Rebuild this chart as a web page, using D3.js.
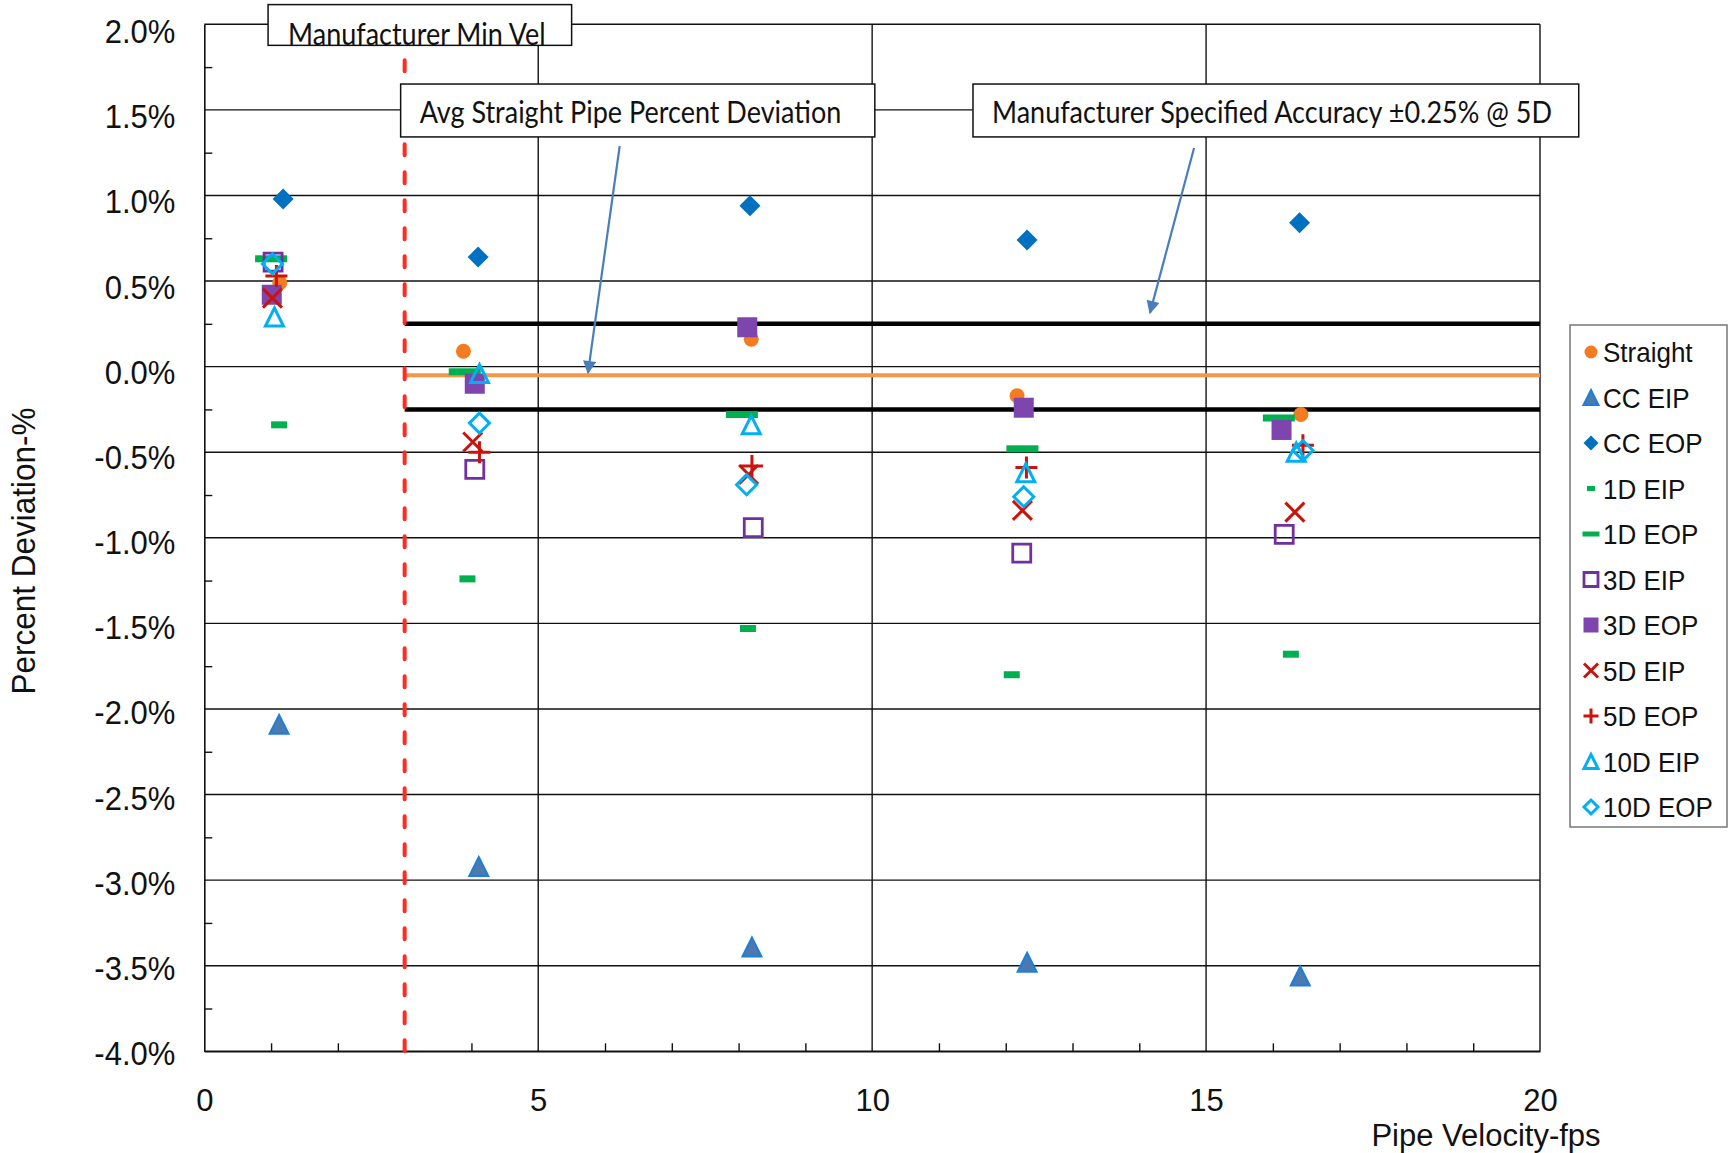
<!DOCTYPE html>
<html>
<head>
<meta charset="utf-8">
<script src="https://cdn.jsdelivr.net/npm/d3@7"></script>
<style>
  html, body { margin: 0; padding: 0; background: #ffffff; }
  svg { display: block; }
</style>
</head>
<body>
<svg id="chart" width="1730" height="1153"></svg>
<script>
// ---------------- DATA ----------------
const seriesNames = ["Straight", "CC EIP", "CC EOP", "1D EIP", "1D EOP", "3D EIP", "3D EOP", "5D EIP", "5D EOP", "10D EIP", "10D EOP"];

const straight = [[1.13, 0.49], [3.88, 0.09], [8.19, 0.16], [12.17, -0.17], [16.42, -0.28]];
const ccEIP    = [[1.12, -2.09], [4.11, -2.92], [8.20, -3.39], [12.32, -3.48], [16.41, -3.56]];
const ccEOP    = [[1.18, 0.98], [4.10, 0.64], [8.17, 0.94], [12.32, 0.74], [16.40, 0.84]];
const d1EIP    = [[1.12, -0.34], [3.94, -1.24], [8.14, -1.53], [12.09, -1.80], [16.27, -1.68]];
const d1EOP    = [[1.00, 0.63], [3.90, -0.03], [8.05, -0.28], [12.25, -0.48], [16.09, -0.30]];
const d3EIP    = [[1.03, 0.61], [4.05, -0.60], [8.22, -0.94], [12.24, -1.09], [16.17, -0.98]];
const d3EOP    = [[1.01, 0.42], [4.05, -0.10], [8.13, 0.23], [12.27, -0.24], [16.13, -0.37]];
const d5EIP    = [[1.02, 0.40], [4.02, -0.44], [8.15, -0.63], [12.25, -0.84], [16.33, -0.85]];
const d5EOP    = [[1.08, 0.53], [4.12, -0.50], [8.20, -0.58], [12.31, -0.59], [16.45, -0.46]];
const d10EIP   = [[1.05, 0.29], [4.12, -0.04], [8.19, -0.34], [12.30, -0.62], [16.35, -0.50]];
const d10EOP   = [[1.02, 0.60], [4.12, -0.33], [8.12, -0.69], [12.27, -0.76], [16.45, -0.49]];

const xTickValues = [0, 5, 10, 15, 20];
const yTickValues = [-4, -3.5, -3, -2.5, -2, -1.5, -1, -0.5, 0, 0.5, 1, 1.5, 2];
const xTitle = "Pipe Velocity-fps";
const yTitle = "Percent Deviation-%";

const accuracyLimits = [0.25, -0.25];
const avgStraightDeviation = -0.05;
const minVelocity = 3;

const annotationTexts = ["Manufacturer Min Vel", "Avg Straight Pipe Percent Deviation", "Manufacturer Specified Accuracy \u00B10.25% @ 5D"];

// ---------------- SETUP ----------------
const svg = d3.select("#chart");
const W = 1730, H = 1153;
const plot = { left: 204.3, right: 1540, top: 24.3, bottom: 1051.3 };

const x = d3.scaleLinear().domain([0, 20]).range([plot.left, plot.right]);
const y = d3.scaleLinear().domain([-4, 2]).range([plot.bottom, plot.top]);
// tick labels in the source sit on a slightly tighter pitch than the gridlines
const yLab = d3.scaleLinear().domain([-4, 2]).range([plot.bottom + 1.5, plot.top + 6.5]);

const axisFont = "'Liberation Sans', Arial, sans-serif";
const noteFont = "Lato, 'Open Sans', sans-serif";
const vStretch = 1.08;

svg.append("rect").attr("width", W).attr("height", H).attr("fill", "#ffffff");

// gridlines horizontal
svg.append("g").selectAll("line").data(yTickValues).join("line")
  .attr("x1", plot.left).attr("x2", plot.right)
  .attr("y1", d => y(d)).attr("y2", d => y(d))
  .attr("stroke", "#111").attr("stroke-width", 1.4);
// gridlines vertical
svg.append("g").selectAll("line").data(xTickValues.filter(d => d > 0)).join("line")
  .attr("x1", d => x(d)).attr("x2", d => x(d))
  .attr("y1", plot.top).attr("y2", plot.bottom)
  .attr("stroke", "#111").attr("stroke-width", 1.4);

// Y axis line
svg.append("g").attr("transform", `translate(${plot.left},0)`)
  .call(d3.axisLeft(y).tickValues([]).tickSizeOuter(0))
  .select(".domain").attr("stroke", "#111").attr("stroke-width", 1.6);

// Y tick labels
const yLabels = svg.append("g").attr("transform", `translate(${plot.left},0)`)
  .call(d3.axisLeft(yLab).tickValues(yTickValues).tickSize(0).tickPadding(29)
    .tickFormat(d => d.toFixed(1) + "%"));
yLabels.select(".domain").remove();
yLabels.selectAll("text")
  .attr("font-family", axisFont).attr("font-size", 31).attr("fill", "#111")
  .attr("x", 0).attr("dy", "0.35em")
  .attr("transform", `translate(-29,0) scale(1,${vStretch})`);

// Y minor ticks
const yMinor = d3.range(-3.75, 2, 0.5);
svg.append("g").attr("transform", `translate(${plot.left},0)`)
  .call(d3.axisRight(y).tickValues(yMinor).tickSize(8).tickFormat(""))
  .call(g => g.select(".domain").remove())
  .selectAll("line").attr("stroke", "#111").attr("stroke-width", 1.4);

// X axis
const xAxis = svg.append("g").attr("transform", `translate(0,${plot.bottom})`)
  .call(d3.axisBottom(x).tickValues(xTickValues).tickSize(0).tickSizeOuter(0).tickPadding(38));
xAxis.select(".domain").attr("stroke", "#111").attr("stroke-width", 1.6);
xAxis.selectAll("text").attr("font-family", axisFont).attr("font-size", 31).attr("fill", "#111");

// X minor ticks
const xMinor = d3.range(1, 20, 1).filter(d => d % 5 !== 0);
svg.append("g").attr("transform", `translate(0,${plot.bottom})`)
  .call(d3.axisTop(x).tickValues(xMinor).tickSize(8).tickFormat(""))
  .call(g => g.select(".domain").remove())
  .selectAll("line").attr("stroke", "#111").attr("stroke-width", 1.4);

// Axis titles
svg.append("text").attr("x", 1486).attr("y", 1145.5).attr("text-anchor", "middle")
  .attr("font-family", axisFont).attr("font-size", 31).attr("fill", "#111").text(xTitle);
svg.append("text").attr("transform", `translate(35,551) rotate(-90) scale(1,${vStretch})`)
  .attr("text-anchor", "middle")
  .attr("font-family", axisFont).attr("font-size", 31.5).attr("fill", "#111").text(yTitle);

// Reference lines
svg.append("g").selectAll("line").data(accuracyLimits).join("line")
  .attr("x1", x(minVelocity)).attr("x2", x(20))
  .attr("y1", d => y(d)).attr("y2", d => y(d))
  .attr("stroke", "#000").attr("stroke-width", 4.5);
svg.append("line")
  .attr("x1", x(minVelocity)).attr("x2", x(20))
  .attr("y1", y(avgStraightDeviation)).attr("y2", y(avgStraightDeviation))
  .attr("stroke", "#F79646").attr("stroke-width", 4);
svg.append("line")
  .attr("x1", x(minVelocity)).attr("x2", x(minVelocity))
  .attr("y1", plot.top + 8).attr("y2", plot.bottom)
  .attr("stroke", "#FF2A22").attr("stroke-width", 4)
  .attr("stroke-linecap", "round").attr("stroke-dasharray", "11,17");

// ---------------- MARKERS ----------------
function markerPath(type, s) {
  const h = s / 2;
  switch (type) {
    case "triangle": return `M0,${-h}L${h},${h}L${-h},${h}Z`;
    case "diamond": return `M0,${-h}L${h},0L0,${h}L${-h},0Z`;
    case "square": return `M${-h},${-h}H${h}V${h}H${-h}Z`;
    case "x": return `M${-h},${-h}L${h},${h}M${h},${-h}L${-h},${h}`;
    case "plus": return `M${-h},0H${h}M0,${-h}V${h}`;
    default: return "";
  }
}

const styles = [
  { data: straight, kind: "circle", size: 15, fill: "#F47B20", stroke: "none", sw: 0, lsize: 13 },
  { data: ccEIP, kind: "triangle", size: 19, fill: "#4C79B0", stroke: "#1F7ED8", sw: 2, lsize: 15 },
  { data: ccEOP, kind: "diamond", size: 21, fill: "#0070C0", stroke: "none", sw: 0, lsize: 15 },
  { data: d1EIP, kind: "rect", w: 16, h: 7, fill: "#00B050", stroke: "none", sw: 0, lw: 8, lh: 5 },
  { data: d1EOP, kind: "rect", w: 32, h: 7, fill: "#00B050", stroke: "none", sw: 0, lw: 17, lh: 5 },
  { data: d3EIP, kind: "square", size: 18, fill: "none", stroke: "#7030A0", sw: 2.8, lsize: 14 },
  { data: d3EOP, kind: "square", size: 20, fill: "#7D45AD", stroke: "none", sw: 0, lsize: 15 },
  { data: d5EIP, kind: "x", size: 19, fill: "none", stroke: "#C8140C", sw: 3, lsize: 14 },
  { data: d5EOP, kind: "plus", size: 22, fill: "none", stroke: "#C8140C", sw: 3, lsize: 15 },
  { data: d10EIP, kind: "triangle", size: 18, fill: "none", stroke: "#00B0F0", sw: 3, lsize: 14 },
  { data: d10EOP, kind: "diamond", size: 20, fill: "none", stroke: "#00B0F0", sw: 3, lsize: 14 }
];

function drawMarker(g, st, legend) {
  if (st.kind === "circle") {
    g.append("circle").attr("r", (legend ? st.lsize : st.size) / 2).attr("fill", st.fill);
  } else if (st.kind === "rect") {
    const w = legend ? st.lw : st.w, h = legend ? st.lh : st.h;
    g.append("rect").attr("x", -w / 2).attr("y", -h / 2).attr("width", w).attr("height", h).attr("fill", st.fill);
  } else {
    g.append("path").attr("d", markerPath(st.kind, legend ? st.lsize : st.size))
      .attr("fill", st.fill).attr("stroke", st.stroke).attr("stroke-width", st.sw)
      .attr("stroke-linejoin", "miter");
  }
}

const marksG = svg.append("g");
styles.forEach(st => {
  const sg = marksG.append("g");
  st.data.forEach(p => {
    const g = sg.append("g").attr("transform", `translate(${x(p[0])},${y(p[1])})`);
    drawMarker(g, st, false);
  });
});

// ---------------- ANNOTATIONS ----------------
const boxes = [
  { x0: 0.955, x1: 5.5, y0: 2.115, y1: 1.877, text: annotationTexts[0], pad: 20, base: 40 },
  { x0: 2.94, x1: 10.04, y0: 1.651, y1: 1.342, text: annotationTexts[1], pad: 19, base: 39 },
  { x0: 11.51, x1: 20.58, y0: 1.651, y1: 1.342, text: annotationTexts[2], pad: 19, base: 39 }
];
boxes.forEach(b => {
  const bx = x(b.x0), by = y(b.y0), bw = x(b.x1) - x(b.x0), bh = y(b.y1) - y(b.y0);
  svg.append("rect").attr("x", bx).attr("y", by).attr("width", bw).attr("height", bh)
    .attr("fill", "#fff").attr("stroke", "#111").attr("stroke-width", 1.5);
  svg.append("text").attr("transform", `translate(${bx + b.pad},${by + b.base}) scale(1,1.12)`)
    .attr("font-family", noteFont).attr("font-size", 27).attr("fill", "#111").text(b.text);
});

const defs = svg.append("defs");
defs.append("marker").attr("id", "arrowhead").attr("viewBox", "0 0 10 10")
  .attr("refX", 9).attr("refY", 5).attr("markerWidth", 7.5).attr("markerHeight", 6)
  .attr("markerUnits", "strokeWidth").attr("orient", "auto")
  .append("path").attr("d", "M0,0L10,5L0,10Z").attr("fill", "#4A7EBB");

const arrows = [
  { from: [6.22, 1.289], to: [5.745, -0.037] },
  { from: [14.82, 1.277], to: [14.16, 0.314] }
];
arrows.forEach(a => {
  svg.append("line")
    .attr("x1", x(a.from[0])).attr("y1", y(a.from[1]))
    .attr("x2", x(a.to[0])).attr("y2", y(a.to[1]))
    .attr("stroke", "#4A7EBB").attr("stroke-width", 2.2)
    .attr("marker-end", "url(#arrowhead)");
});

// ---------------- LEGEND ----------------
const legend = svg.append("g");
legend.append("rect").attr("x", 1570).attr("y", 325).attr("width", 157).attr("height", 502)
  .attr("fill", "#fff").attr("stroke", "#777").attr("stroke-width", 1.5);
styles.forEach((st, i) => {
  const cy = 352 + i * 45.5;
  const g = legend.append("g").attr("transform", `translate(1591,${cy})`);
  drawMarker(g, st, true);
  legend.append("text").attr("transform", `translate(1603,${cy}) scale(1,${vStretch})`).attr("dy", "0.36em")
    .attr("font-family", axisFont).attr("font-size", 26).attr("fill", "#111").text(seriesNames[i]);
});
</script>
</body>
</html>
